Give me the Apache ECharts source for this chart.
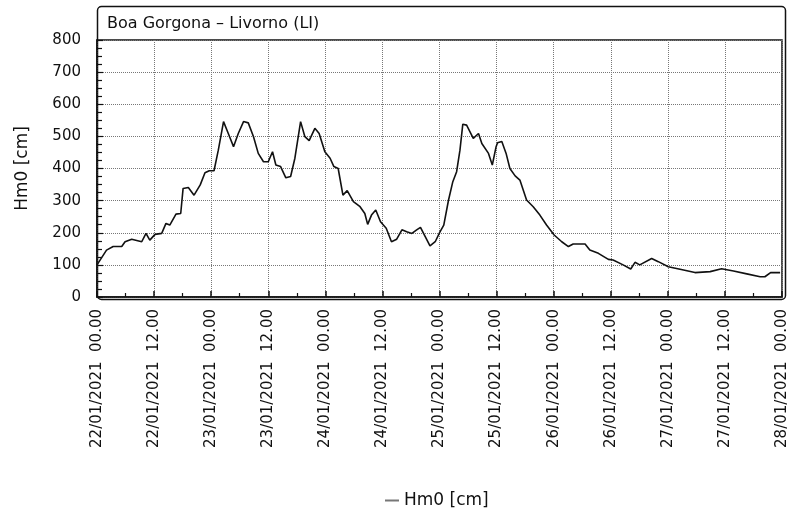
<!DOCTYPE html>
<html lang="it">
<head>
    <meta charset="UTF-8">
    <title>Boa Gorgona - Livorno</title>
    <script src="https://cdn.jsdelivr.net/npm/echarts@6/dist/echarts.min.js"></script>
    <style>
        html, body { margin: 0; padding: 0; background: #fff; }
    </style>
</head>
<body>
<div id="container" style="width: 792px;height: 511px"></div>
<script>
// ore dall'inizio (22/01/2021 00.00) e altezza d'onda Hm0 in cm
var hours = [0, 2, 3.4, 5.2, 5.9, 7.3, 9.4, 10.3, 11.1, 12.2, 13.6, 14.5, 15.3, 16.6, 17.6, 18.1, 19.2, 20.4, 21.7, 22.7, 23.6, 24.6,
    25.5, 26.6, 27.6, 28.7, 29.7, 30.8, 31.8, 32.9, 33.9, 35, 36, 36.9, 37.6, 38.6, 39.7, 40.7, 41.6, 42.8, 43.7, 44.6, 45.8, 46.7,
    47.9, 49, 49.8, 50.7, 51.7, 52.6, 53.9, 55.3, 56.3, 56.9, 57.7, 58.6, 59.6, 60.8, 61.9, 63, 64.1, 65.1, 66.2, 67.2, 68, 69, 70,
    71.1, 72.1, 72.9, 73.9, 74.8, 75.6, 76.3, 76.9, 77.7, 79.1, 80.2, 80.9, 82.3, 83.1, 83.9, 84.2, 85.1, 86, 86.8, 87.9, 88.9,
    90.3, 91.7, 93.1, 94.5, 96.1, 97.7, 99.1, 100.1, 102.6, 103.6, 105.4, 107.5, 108.5, 110.6, 112.2, 113.1, 114.1, 116.6, 118,
    120.1, 123.3, 125.7, 128.9, 131.3, 133.8, 136.6, 139.4, 140.4, 141.6, 143.6];
var hm0 = [100, 146, 157, 157, 172, 180, 172, 198, 177, 195, 198, 229, 224, 258, 260, 338, 341, 317, 349, 387, 393, 393,
    457, 546, 509, 468, 509, 546, 542, 499, 447, 421, 421, 452, 411, 406, 371, 375, 432, 546, 499, 487, 525, 509,
    452, 432, 406, 400, 317, 331, 297, 281, 260, 226, 255, 271, 234, 214, 172, 180, 209, 203, 198, 209, 217, 188, 159,
    172, 203, 224, 302, 359, 390, 457, 538, 535, 494, 509, 478, 447, 411, 468, 480, 484, 447, 400, 377, 364,
    302, 281, 255, 224, 193, 172, 157, 165, 165, 146, 136, 117, 115, 100, 87, 108, 100, 120, 110,
    94, 84, 76, 79, 88, 81, 72, 63, 63, 76, 76];

var chartTitle = 'Boa Gorgona \u2013 Livorno (LI)';
var seriesName = 'Hm0 [cm]';
var startDay = 22;

var points = hours.map(function (h, i) {
    return [h, hm0[i]];
});

function pad(n) {
    return n < 10 ? '0' + n : '' + n;
}

// etichetta asse x: gg/mm/aaaa  hh.mm
function fmtTime(h) {
    var day = startDay + Math.floor(h / 24);
    var hh = h % 24;
    return pad(day) + '/01/2021  ' + pad(hh) + '.00';
}

var chart = echarts.init(document.getElementById('container'));

chart.setOption({
    backgroundColor: '#ffffff',
    animation: false,
    title: {
        text: chartTitle,
        left: 102,
        top: 11,
        textStyle: {
            fontFamily: 'DejaVu Sans',
            fontSize: 16,
            fontWeight: 'normal',
            color: '#111'
        }
    },
    graphic: [
        {
            type: 'rect',
            left: 95,
            top: 4,
            shape: { width: 688, height: 293, r: 4 },
            style: { fill: 'none', stroke: '#111', lineWidth: 1.5 },
            silent: true
        }
    ],
    legend: {
        left: 380,
        top: 487,
        icon: 'rect',
        itemWidth: 14,
        itemHeight: 2,
        itemGap: 6,
        textStyle: {
            fontFamily: 'DejaVu Sans',
            fontSize: 17,
            color: '#111'
        },
        data: [seriesName]
    },
    grid: {
        left: 97,
        right: 10,
        top: 40,
        bottom: 214,
        show: true,
        borderColor: '#111',
        borderWidth: 1.5,
        outerBoundsMode: 'none'
    },
    xAxis: {
        type: 'value',
        min: 0,
        max: 144,
        interval: 12,
        axisLine: { lineStyle: { color: '#111', width: 1.5 } },
        axisTick: { inside: true, length: 6, lineStyle: { color: '#111', width: 1.5 } },
        minorTick: { show: true, splitNumber: 2, length: 4, lineStyle: { color: '#111', width: 1.2 } },
        splitLine: { show: true, lineStyle: { color: '#777', type: 'dotted', width: 1 } },
        axisLabel: {
            rotate: 90,
            margin: 12,
            fontFamily: 'DejaVu Sans',
            fontSize: 15,
            color: '#111',
            formatter: fmtTime
        }
    },
    yAxis: {
        type: 'value',
        min: 0,
        max: 800,
        interval: 100,
        name: seriesName,
        nameLocation: 'middle',
        nameGap: 66,
        nameTextStyle: {
            fontFamily: 'DejaVu Sans',
            fontSize: 17,
            color: '#111'
        },
        axisLine: { show: true, lineStyle: { color: '#111', width: 1.5 } },
        axisTick: { show: true, inside: true, length: 6, lineStyle: { color: '#111', width: 1.2 } },
        minorTick: { show: true, splitNumber: 4, length: 5, lineStyle: { color: '#111', width: 1.2 } },
        splitLine: { show: true, lineStyle: { color: '#777', type: 'dotted', width: 1 } },
        axisLabel: {
            margin: 16,
            fontFamily: 'DejaVu Sans',
            fontSize: 15,
            color: '#111'
        }
    },
    series: [
        {
            name: seriesName,
            type: 'line',
            data: points,
            showSymbol: false,
            lineStyle: { color: '#111', width: 1.6 },
            itemStyle: { color: '#777' }
        }
    ]
});
</script>
</body>
</html>
